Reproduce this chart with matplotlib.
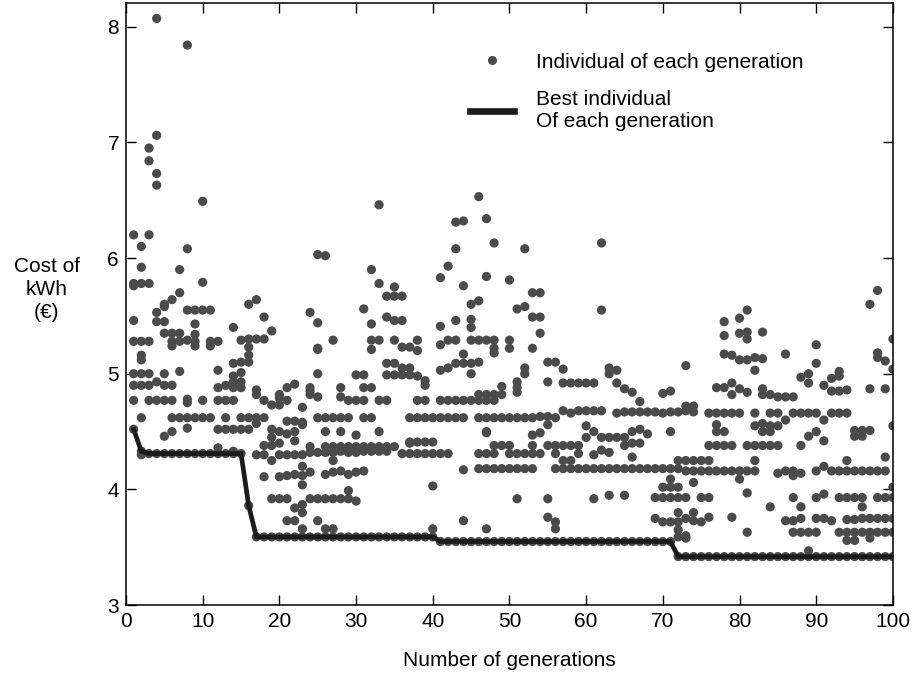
import numpy as np
import matplotlib
matplotlib.use("Agg")
import matplotlib.pyplot as plt
from matplotlib.lines import Line2D

plt.rcParams['font.family'] = ['Liberation Sans', 'DejaVu Sans']

# cost of every individual, one list per generation
pop_001_010 = [
    [6.20, 5.78, 5.76, 5.46, 5.28, 5.00, 4.90, 4.77],
    [6.10, 5.92, 5.78, 5.28, 5.16, 5.12, 5.00, 4.90, 4.62, 4.30],
    [6.95, 6.84, 6.20, 5.78, 5.28, 5.00, 4.90, 4.77],
    [8.07, 7.06, 6.73, 6.63, 5.53, 5.45, 4.93, 4.77],
    [5.60, 5.58, 5.45, 5.35, 5.00, 4.90, 4.77, 4.46],
    [5.64, 5.35, 5.28, 5.24, 4.90, 4.77, 4.62, 4.50],
    [5.90, 5.70, 5.35, 5.28, 5.02, 4.62],
    [7.84, 6.08, 5.55, 5.29, 4.78, 4.75, 4.62, 4.53],
    [5.55, 5.43, 5.34, 5.28, 5.24, 4.62],
    [6.49, 5.79, 5.55, 4.77, 4.62],
]
pop_011_020 = [
    [5.55, 5.28, 5.24, 4.62],
    [5.28, 5.03, 4.88, 4.77, 4.52, 4.36],
    [4.90, 4.77, 4.62, 4.52],
    [5.40, 5.09, 4.98, 4.93, 4.88, 4.77, 4.52, 4.33],
    [5.29, 5.10, 5.01, 4.93, 4.88, 4.62, 4.52],
    [5.60, 5.30, 5.23, 5.16, 5.10, 4.62, 4.52],
    [5.64, 5.30, 4.86, 4.82, 4.62, 4.57, 4.30],
    [5.49, 5.30, 4.77, 4.62, 4.38, 4.30, 4.11],
    [5.37, 4.73, 4.52, 4.45, 4.38, 4.25, 3.92],
    [4.82, 4.79, 4.73, 4.50, 4.40, 4.30, 4.11, 3.92],
]
pop_021_030 = [
    [4.88, 4.77, 4.59, 4.48, 4.30, 4.12, 3.92, 3.73],
    [4.91, 4.59, 4.50, 4.42, 4.30, 4.13, 3.84, 3.73],
    [4.71, 4.58, 4.56, 4.30, 4.20, 4.12, 4.04, 3.87, 3.80, 3.66],
    [5.53, 4.88, 4.85, 4.82, 4.37, 4.32, 4.15, 3.92],
    [6.03, 5.44, 5.22, 5.21, 5.00, 4.80, 4.62, 4.32, 3.92, 3.73],
    [6.02, 4.62, 4.50, 4.37, 4.32, 4.13, 3.92, 3.66],
    [5.29, 4.62, 4.37, 4.32, 4.25, 4.15, 3.92, 3.66],
    [4.88, 4.80, 4.62, 4.50, 4.37, 4.33, 4.16, 3.92],
    [4.77, 4.62, 4.37, 4.36, 4.32, 4.13, 3.99, 3.92],
    [4.99, 4.77, 4.47, 4.37, 4.32, 4.15, 3.90],
]
pop_031_040 = [
    [5.56, 4.99, 4.88, 4.77, 4.62, 4.37, 4.33, 4.16],
    [5.90, 5.43, 5.29, 5.21, 4.88, 4.62, 4.37, 4.33],
    [6.46, 5.78, 5.29, 4.77, 4.50, 4.37, 4.33],
    [5.67, 5.49, 5.09, 4.99, 4.77, 4.37, 4.33],
    [5.75, 5.67, 5.46, 5.29, 5.09, 4.99, 4.37],
    [5.67, 5.46, 5.23, 5.05, 4.99, 4.31],
    [5.23, 5.05, 4.99, 4.62, 4.41, 4.40, 4.31],
    [5.29, 5.20, 4.98, 4.77, 4.62, 4.41, 4.31],
    [4.94, 4.90, 4.77, 4.62, 4.41, 4.31],
    [4.62, 4.41, 4.31, 4.03, 3.66],
]
pop_041_050 = [
    [5.83, 5.41, 5.25, 5.03, 4.77, 4.62, 4.31],
    [5.93, 5.29, 5.05, 4.77, 4.62, 4.31],
    [6.31, 6.08, 5.46, 5.29, 5.09, 4.77, 4.62],
    [6.32, 5.76, 5.17, 5.09, 4.77, 4.62, 4.17, 3.73],
    [5.60, 5.47, 5.40, 5.29, 5.09, 5.00, 4.77],
    [6.53, 5.63, 5.29, 5.10, 4.82, 4.77, 4.62, 4.31, 4.18],
    [6.34, 5.84, 5.29, 4.82, 4.77, 4.62, 4.50, 4.49, 4.31, 4.18, 3.66],
    [6.13, 5.29, 5.22, 5.18, 4.82, 4.77, 4.62, 4.38, 4.31, 4.18],
    [4.89, 4.82, 4.62, 4.38, 4.18],
    [5.81, 5.29, 5.22, 4.62, 4.38, 4.31, 4.18],
]
pop_051_060 = [
    [5.56, 4.93, 4.88, 4.84, 4.62, 4.31, 4.18, 3.92],
    [6.08, 5.58, 5.05, 5.00, 4.62, 4.31, 4.18],
    [5.70, 5.49, 5.22, 4.62, 4.47, 4.38, 4.31, 4.18],
    [5.70, 5.49, 5.35, 4.63, 4.49, 4.31],
    [5.10, 4.93, 4.63, 4.56, 4.38, 3.92, 3.76],
    [5.10, 4.62, 4.38, 4.31, 4.18, 3.72, 3.66],
    [5.04, 4.92, 4.68, 4.38, 4.25, 4.18],
    [4.92, 4.66, 4.38, 4.25, 4.18],
    [4.92, 4.68, 4.38, 4.31, 4.18],
    [4.92, 4.68, 4.55, 4.45, 4.18],
]
pop_061_070 = [
    [4.92, 4.68, 4.50, 4.30, 4.18, 3.92],
    [6.13, 5.55, 4.68, 4.45, 4.34, 4.18],
    [5.05, 5.00, 4.45, 4.32, 4.18, 3.95],
    [5.03, 4.92, 4.66, 4.45, 4.18],
    [4.87, 4.67, 4.45, 4.38, 4.18, 3.95],
    [4.84, 4.67, 4.50, 4.40, 4.28, 4.18],
    [4.76, 4.67, 4.52, 4.40, 4.18],
    [4.67, 4.48, 4.18],
    [4.67, 4.18, 3.93, 3.75],
    [4.83, 4.66, 4.18, 4.02, 3.93, 3.72],
]
pop_071_080 = [
    [4.85, 4.67, 4.50, 4.18, 4.09, 4.02, 3.93, 3.72],
    [4.67, 4.25, 4.18, 4.02, 3.93, 3.80, 3.72, 3.65, 3.59],
    [5.07, 4.72, 4.68, 4.25, 4.16, 3.93, 3.75, 3.60, 3.58],
    [4.72, 4.67, 4.25, 4.16, 4.06, 3.80, 3.73],
    [4.25, 4.16, 3.93, 3.72],
    [4.66, 4.38, 4.25, 4.16, 3.93, 3.76],
    [4.88, 4.66, 4.56, 4.50, 4.38, 4.16],
    [5.45, 5.33, 5.17, 4.88, 4.66, 4.50, 4.38, 4.16],
    [5.16, 4.92, 4.82, 4.66, 4.38, 4.16, 3.76],
    [5.48, 5.35, 5.12, 4.87, 4.66, 4.16, 4.09],
]
pop_081_090 = [
    [5.55, 5.36, 5.30, 5.12, 4.84, 4.38, 4.16, 3.97, 3.63],
    [5.14, 5.03, 4.66, 4.55, 4.38, 4.25, 4.16],
    [5.36, 5.13, 4.87, 4.82, 4.57, 4.50, 4.38],
    [4.82, 4.66, 4.55, 4.50, 4.38, 3.85],
    [4.80, 4.66, 4.55, 4.38, 4.14],
    [5.17, 4.80, 4.60, 4.16, 3.73],
    [4.80, 4.66, 4.16, 4.12, 3.93, 3.73, 3.63],
    [4.97, 4.66, 4.38, 4.14, 3.85, 3.75, 3.63],
    [5.00, 4.92, 4.66, 4.46, 3.63, 3.47],
    [5.25, 5.09, 4.66, 4.50, 4.16, 3.93, 3.75, 3.63],
]
pop_091_100 = [
    [4.90, 4.60, 4.42, 4.20, 3.96, 3.75],
    [4.96, 4.85, 4.66, 4.16, 3.73],
    [5.02, 4.98, 4.85, 4.66, 4.16, 3.93, 3.63],
    [4.86, 4.66, 4.25, 4.16, 3.93, 3.74, 3.63, 3.56],
    [4.51, 4.46, 4.16, 3.93, 3.74, 3.63, 3.56],
    [4.51, 4.46, 4.16, 3.93, 3.85, 3.75, 3.63],
    [5.60, 4.87, 4.51, 4.16, 3.75, 3.63, 3.58],
    [5.72, 5.18, 5.14, 4.16, 3.93, 3.75, 3.63],
    [5.11, 4.87, 4.28, 4.16, 3.93, 3.75, 3.63],
    [5.30, 5.04, 4.55, 4.02, 3.93, 3.75, 3.63],
]

# best individual of each generation
best = [4.52, 4.33, 4.31, 4.31, 4.31, 4.31, 4.31, 4.31, 4.31, 4.31,
        4.31, 4.31, 4.31, 4.31, 4.31, 3.86, 3.59, 3.59, 3.59, 3.59,
        3.59, 3.59, 3.59, 3.59, 3.59, 3.59, 3.59, 3.59, 3.59, 3.59,
        3.59, 3.59, 3.59, 3.59, 3.59, 3.59, 3.59, 3.59, 3.59, 3.59,
        3.55, 3.55, 3.55, 3.55, 3.55, 3.55, 3.55, 3.55, 3.55, 3.55,
        3.55, 3.55, 3.55, 3.55, 3.55, 3.55, 3.55, 3.55, 3.55, 3.55,
        3.55, 3.55, 3.55, 3.55, 3.55, 3.55, 3.55, 3.55, 3.55, 3.55,
        3.55, 3.42, 3.42, 3.42, 3.42, 3.42, 3.42, 3.42, 3.42, 3.42,
        3.42, 3.42, 3.42, 3.42, 3.42, 3.42, 3.42, 3.42, 3.42, 3.42,
        3.42, 3.42, 3.42, 3.42, 3.42, 3.42, 3.42, 3.42, 3.42, 3.42]

population = (pop_001_010 + pop_011_020 + pop_021_030 + pop_031_040 + pop_041_050
              + pop_051_060 + pop_061_070 + pop_071_080 + pop_081_090 + pop_091_100)
generations = np.arange(1, len(best) + 1)

xs, ys = [], []
for g, costs in zip(generations, population):
    for c in costs:
        xs.append(g)
        ys.append(c)
xs.extend(generations)
ys.extend(best)

dot_color = "#4b4b4b"
line_color = "#1c1c1c"

fig = plt.figure(figsize=(9.13, 6.8), dpi=100)
ax = fig.add_axes([0.138, 0.110, 0.840, 0.885])

ax.scatter(xs, ys, s=44, color=dot_color, edgecolors="none", zorder=2)
ax.plot(generations, best, color=line_color, lw=3.4, zorder=3, solid_joinstyle="miter")

ax.set_xlim(0, 100)
ax.set_ylim(3, 8.2)
ax.set_xticks(range(0, 101, 10))
ax.set_yticks(range(3, 9))
ax.tick_params(direction="in", length=7, width=1, labelsize=15,
               top=True, right=True, pad=5)
for s in ax.spines.values():
    s.set_linewidth(1.1)

fig.text(0.051, 0.574, "Cost of\nkWh\n(€)", ha="center", va="center",
         fontsize=15, linespacing=1.25)
fig.text(0.558, 0.028, "Number of generations", ha="center", va="center", fontsize=15)

handles = [
    Line2D([], [], ls="none", marker="o", markersize=6.5, color=dot_color, markeredgewidth=0),
    Line2D([], [], color=line_color, lw=4.8),
]
labels = ["Individual of each generation", "Best individual\nOf each generation"]
ax.legend(handles, labels, loc="upper left", bbox_to_anchor=(0.449, 0.918),
          frameon=False, fontsize=15, handlelength=2.1, handletextpad=1.05,
          labelspacing=0.9, borderpad=0, borderaxespad=0)

fig.savefig("out.png", dpi=100)
